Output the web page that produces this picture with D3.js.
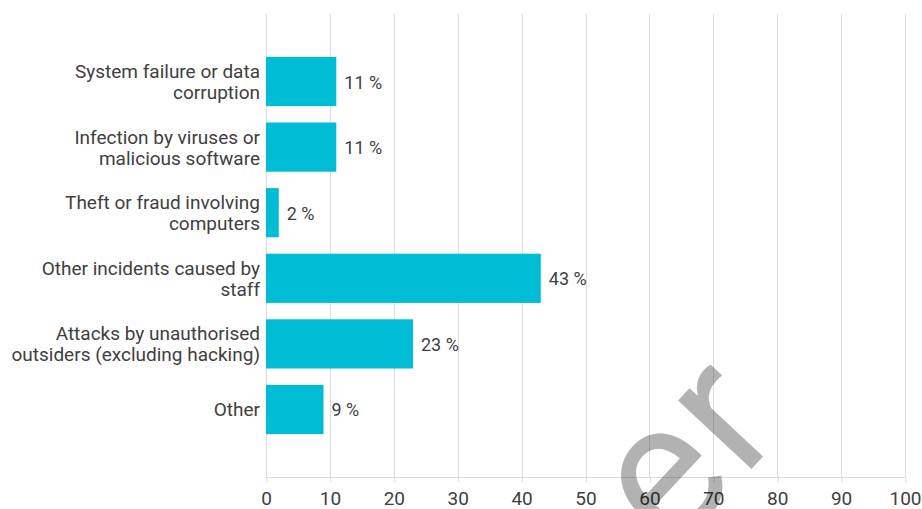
<!DOCTYPE html>
<html>
<head>
<meta charset="utf-8">
<script src="https://cdn.jsdelivr.net/npm/d3@7"></script>
<style>
  html, body { margin: 0; padding: 0; background: #fff; }
  svg { display: block; }
  text { font-family: Roboto, "Liberation Sans", Arial, sans-serif; }
</style>
</head>
<body>
<svg id="chart" width="922" height="509"></svg>
<script>
// Share of reported incidents by type (percent)
const categories = [
  "System failure or data\ncorruption",
  "Infection by viruses or\nmalicious software",
  "Theft or fraud involving\ncomputers",
  "Other incidents caused by\nstaff",
  "Attacks by unauthorised\noutsiders (excluding hacking)",
  "Other"
];
const values = [11, 11, 2, 43, 23, 9];
const tickValues = [0, 10, 20, 30, 40, 50, 60, 70, 80, 90, 100];
const valueSuffix = " %";

const plot = { left: 266, right: 905, top: 14, bottom: 477 };
const barColor = "#00bcd4";
const gridColor = "#dcdcdc";
const textColor = "#404040";

const svg = d3.select("#chart");

const x = d3.scaleLinear().domain([0, 100]).range([plot.left, plot.right]);
const y = d3.scaleBand()
  .domain(categories)
  .range([plot.top, plot.bottom])
  .paddingInner(0.25)
  .paddingOuter(0.654);

// vertical gridlines
svg.append("g")
  .selectAll("line")
  .data(tickValues)
  .join("line")
  .attr("x1", d => Math.round(x(d)) + 0.5)
  .attr("x2", d => Math.round(x(d)) + 0.5)
  .attr("y1", plot.top)
  .attr("y2", plot.bottom)
  .attr("stroke", gridColor)
  .attr("stroke-width", 1);

// bottom axis
const xAxis = d3.axisBottom(x)
  .tickValues(tickValues)
  .tickSize(5)
  .tickPadding(9)
  .tickFormat(d3.format("d"));

const axisG = svg.append("g")
  .attr("transform", `translate(0,${plot.bottom + 0.5})`)
  .call(xAxis);
axisG.select(".domain").attr("stroke", gridColor).attr("d", `M${plot.left},0H${plot.right + 0.5}`);
axisG.selectAll(".tick line").attr("stroke", gridColor).attr("transform", "translate(0.5,0)");
axisG.selectAll(".tick text")
  .attr("fill", textColor)
  .attr("font-size", 19)
  .attr("font-family", "Roboto, 'Liberation Sans', Arial, sans-serif")
  .attr("dy", "0.71em");

// bars
svg.append("g")
  .selectAll("rect")
  .data(values)
  .join("rect")
  .attr("x", x(0))
  .attr("y", (d, i) => y(categories[i]))
  .attr("width", d => x(d) - x(0))
  .attr("height", y.bandwidth())
  .attr("fill", barColor);

// value labels
svg.append("g")
  .selectAll("text")
  .data(values)
  .join("text")
  .attr("x", d => x(d) + 8)
  .attr("y", (d, i) => y(categories[i]) + y.bandwidth() / 2 + 7)
  .attr("fill", textColor)
  .attr("font-size", 18)
  .text(d => d + valueSuffix);

// category labels, wrapped on explicit line breaks
const lineH = 21;
const catG = svg.append("g");
categories.forEach(c => {
  const lines = c.split("\n");
  const cy = y(c) + y.bandwidth() / 2;
  const t = catG.append("text")
    .attr("text-anchor", "end")
    .attr("fill", textColor)
    .attr("font-size", 19);
  lines.forEach((ln, j) => {
    t.append("tspan")
      .attr("x", plot.left - 6)
      .attr("y", cy + (j - (lines.length - 1) / 2) * lineH + 7)
      .text(ln);
  });
});

// watermark text
svg.append("text")
  .attr("transform", "translate(671,555) rotate(-47)")
  .attr("font-size", 190)
  .attr("font-weight", 400)
  .attr("letter-spacing", 4)
  .attr("fill", "#000")
  .attr("fill-opacity", 0.3)
  .text("er");
</script>
</body>
</html>
